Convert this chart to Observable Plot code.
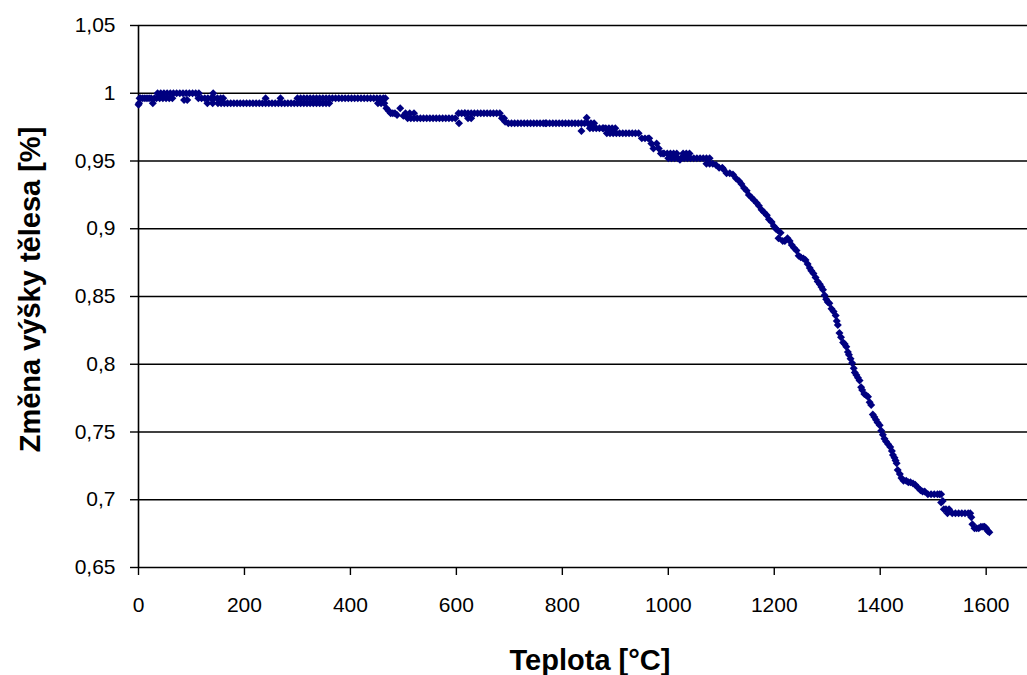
<!DOCTYPE html>
<html>
<head>
<meta charset="utf-8">
<script src="https://cdn.jsdelivr.net/npm/d3@7"></script>
<script src="https://cdn.jsdelivr.net/npm/@observablehq/plot@0.6"></script>
<style>
  html, body { margin: 0; padding: 0; background: #fff; }
  #chart { width: 1027px; height: 675px; }
</style>
</head>
<body>
<div id="chart"></div>
<script>
// Temperature (°C) and relative height change
const temperature = [
  0, 1, 2, 4, 8, 12, 16, 20, 24, 27, 30, 34, 36, 40, 42, 46, 48, 52, 54, 58, 60, 64, 66, 72, 78, 84, 86, 90, 92, 96, 102, 108,
  113, 114, 119, 125, 130, 131, 137, 140, 141, 143, 149, 150, 155, 156, 160, 162,
  168, 174, 180, 186, 192, 198, 204, 210, 216, 222, 228, 234, 240, 246, 252, 258, 264, 270, 276, 282, 288, 294, 300, 306, 312, 318, 324, 330, 336, 342, 348, 354, 360,
  240, 268, 300, 306, 312, 318, 324, 330, 336, 342, 348, 354, 360, 366, 372, 378, 384, 390, 396, 402, 408, 414, 420, 426, 432, 438, 444, 450, 456, 462, 466,
  452, 458, 464,
  468, 472, 476, 480, 484, 488, 494, 500, 504, 508, 512, 514, 520, 520, 526, 532, 538, 544, 550, 556, 562, 568, 574, 580, 586, 592, 598,
  605, 604, 610, 616, 622, 628, 634, 640, 646, 652, 658, 664, 670, 676, 682, 616, 622, 628,
  686, 690, 692, 698, 704, 710, 716, 722, 728, 734, 740, 746, 752, 758, 764, 770, 776, 782, 788, 794, 800, 806, 812, 818, 824, 830, 836, 842, 848, 854, 860,
  768, 836,
  846, 852, 858, 864, 870, 876, 882, 888, 894, 900,
  878, 884, 890, 896, 902, 908, 914, 920, 926, 932, 938,
  944, 950, 956, 962, 964, 968, 972, 978, 982,
  986, 992, 998, 1004, 1010, 1016, 1028, 1034, 1040,
  990, 1000, 1006, 1012, 1018, 1024, 1030, 1036, 1042, 1048, 1054, 1060, 1066, 1072, 1078, 1022,
  1072, 1078, 1084, 1090, 1096, 1102, 1104, 1110, 1116, 1122, 1128, 1134, 1138, 1143, 1148, 1152, 1157, 1162, 1167, 1171,
  1176, 1181, 1186, 1190, 1195, 1199, 1203, 1206, 1208, 1212, 1216, 1220, 1225, 1229, 1233, 1237, 1242, 1246, 1250, 1255,
  1259, 1263, 1267, 1270, 1274, 1278, 1282, 1286, 1289, 1292, 1295, 1298, 1301, 1304, 1308, 1312, 1316, 1318, 1320, 1323,
  1326, 1330, 1333, 1336, 1339, 1341, 1344, 1347, 1350, 1352, 1355, 1358, 1361, 1364, 1366, 1370, 1374, 1377, 1380, 1383,
  1386, 1389, 1392, 1395, 1399, 1402, 1405, 1408, 1411, 1415, 1419, 1422, 1424, 1427, 1429, 1431, 1433, 1437, 1440, 1444,
  1449, 1453, 1457, 1462, 1466, 1471, 1476, 1480, 1484, 1490, 1496, 1502, 1508, 1512, 1515, 1518, 1515, 1520, 1524, 1527,
  1530, 1536, 1542, 1548, 1554, 1560, 1566, 1570, 1572, 1574, 1578, 1582, 1586, 1590, 1594, 1597, 1600, 1603, 1606
];
const heightRatio = [
  0.9915, 0.9926, 0.9963, 0.9963, 0.9963, 0.9963, 0.9963, 0.9963, 0.9963, 0.9926, 0.9963, 0.9963, 1.0, 0.9963, 1.0, 0.9963, 1.0, 0.9963, 1.0, 0.9963, 1.0, 0.9963, 1.0, 1.0, 1.0, 1.0, 0.995, 1.0, 0.995, 1.0, 1.0, 1.0,
  0.9963, 1.0, 0.9963, 0.9963, 0.9926, 0.9963, 0.9963, 0.9926, 1.0, 0.9963, 0.9963, 0.9926, 0.9963, 0.9926, 0.9963, 0.9926,
  0.9926, 0.9926, 0.9926, 0.9926, 0.9926, 0.9926, 0.9926, 0.9926, 0.9926, 0.9926, 0.9926, 0.9926, 0.9926, 0.9926, 0.9926, 0.9926, 0.9926, 0.9926, 0.9926, 0.9926, 0.9926, 0.9926, 0.9926, 0.9926, 0.9926, 0.9926, 0.9926, 0.9926, 0.9926, 0.9926, 0.9926, 0.9926, 0.9926,
  0.9963, 0.9963, 0.9963, 0.9963, 0.9963, 0.9963, 0.9963, 0.9963, 0.9963, 0.9963, 0.9963, 0.9963, 0.9963, 0.9963, 0.9963, 0.9963, 0.9963, 0.9963, 0.9963, 0.9963, 0.9963, 0.9963, 0.9963, 0.9963, 0.9963, 0.9963, 0.9963, 0.9963, 0.9963, 0.9963, 0.9963,
  0.9926, 0.9926, 0.9926,
  0.9889, 0.9870, 0.9852, 0.9852, 0.9852, 0.9840, 0.9889, 0.9833, 0.9852, 0.9815, 0.9852, 0.9815, 0.9815, 0.9852, 0.9815, 0.9815, 0.9815, 0.9815, 0.9815, 0.9815, 0.9815, 0.9815, 0.9815, 0.9815, 0.9815, 0.9815, 0.9815,
  0.9778, 0.9852, 0.9852, 0.9852, 0.9852, 0.9852, 0.9852, 0.9852, 0.9852, 0.9852, 0.9852, 0.9852, 0.9852, 0.9852, 0.9852, 0.9852, 0.9815, 0.9815, 0.9815,
  0.9815, 0.9790, 0.9778, 0.9778, 0.9778, 0.9778, 0.9778, 0.9778, 0.9778, 0.9778, 0.9778, 0.9778, 0.9778, 0.9778, 0.9778, 0.9778, 0.9778, 0.9778, 0.9778, 0.9778, 0.9778, 0.9778, 0.9778, 0.9778, 0.9778, 0.9778, 0.9778, 0.9778, 0.9778, 0.9778, 0.9778,
  0.9722, 0.9820,
  0.9741, 0.9741, 0.9741, 0.9741, 0.9741, 0.9741, 0.9741, 0.9741, 0.9741, 0.9741,
  0.9704, 0.9704, 0.9704, 0.9704, 0.9704, 0.9704, 0.9704, 0.9704, 0.9704, 0.9704, 0.9704,
  0.9667, 0.9667, 0.9667, 0.9667, 0.9630, 0.9593, 0.9630, 0.9593, 0.9556,
  0.9556, 0.9556, 0.9556, 0.9556, 0.9556, 0.9556, 0.9556, 0.9556, 0.9556,
  0.9520, 0.9520, 0.9520, 0.9520, 0.9520, 0.9520, 0.9520, 0.9520, 0.9520, 0.9520, 0.9520, 0.9520, 0.9520, 0.9520, 0.9510, 0.9480,
  0.948, 0.948, 0.947, 0.945, 0.945, 0.944, 0.941, 0.941, 0.940, 0.937, 0.935, 0.933, 0.930, 0.928, 0.925, 0.923, 0.921, 0.919, 0.917, 0.914,
  0.912, 0.910, 0.907, 0.905, 0.902, 0.900, 0.899, 0.893, 0.897, 0.891, 0.891, 0.893, 0.891, 0.888, 0.886, 0.884, 0.880, 0.879, 0.878, 0.877,
  0.874, 0.871, 0.869, 0.867, 0.864, 0.861, 0.859, 0.857, 0.855, 0.851, 0.848, 0.846, 0.845, 0.841, 0.839, 0.836, 0.832, 0.829, 0.823, 0.820,
  0.816, 0.815, 0.813, 0.809, 0.807, 0.804, 0.801, 0.797, 0.794, 0.792, 0.790, 0.788, 0.783, 0.781, 0.778, 0.777, 0.776, 0.772, 0.770, 0.763,
  0.761, 0.759, 0.757, 0.755, 0.751, 0.748, 0.745, 0.743, 0.741, 0.739, 0.736, 0.733, 0.731, 0.729, 0.727, 0.722, 0.719, 0.716, 0.714, 0.714,
  0.713, 0.713, 0.712, 0.711, 0.709, 0.707, 0.706, 0.706, 0.704, 0.704, 0.704, 0.704, 0.704, 0.704, 0.699, 0.698, 0.693, 0.693, 0.690, 0.693,
  0.690, 0.690, 0.690, 0.690, 0.690, 0.690, 0.690, 0.687, 0.682, 0.679, 0.679, 0.679, 0.680, 0.680, 0.680, 0.679, 0.677, 0.676, 0.675
];
const xTicks = [0, 200, 400, 600, 800, 1000, 1200, 1400, 1600];
const yTicks = [0.65, 0.7, 0.75, 0.8, 0.85, 0.9, 0.95, 1, 1.05];
const xTitle = "Teplota [°C]";
const yTitle = "Změna výšky tělesa [%]";

const data = temperature.map((t, i) => ({t, h: heightRatio[i]}));

const chart = Plot.plot({
  width: 1027,
  height: 675,
  marginLeft: 138,
  marginRight: 0,
  marginTop: 25,
  marginBottom: 108,
  style: {fontFamily: "'Liberation Sans', Arial, sans-serif", fontSize: "21px", color: "black", background: "white"},
  x: {domain: [0, 1678]},
  y: {domain: [0.65, 1.05]},
  marks: [
    Plot.ruleY(yTicks, {stroke: "black", strokeWidth: 1.6}),
    Plot.ruleX([0], {stroke: "black", strokeWidth: 1.6}),
    Plot.axisX({ticks: xTicks, tickSize: 8, tickPadding: 22, label: null, strokeWidth: 1.4, tickFormat: d => String(d)}),
    Plot.axisY({ticks: yTicks, tickSize: 8, tickPadding: 15, label: null, strokeWidth: 1.4, tickFormat: d => String(d).replace(".", ",")}),
    Plot.dot(data, {x: "t", y: "h", symbol: "diamond2", r: 3.6, fill: "#000080", stroke: "none"}),
    Plot.text([xTitle], {frameAnchor: "bottom", dx: 7, dy: 93, lineAnchor: "middle", textAnchor: "middle", fontWeight: "bold", fontSize: 29}),
    Plot.text([yTitle], {frameAnchor: "left", dx: -108, dy: -7, rotate: -90, lineAnchor: "middle", textAnchor: "middle", fontWeight: "bold", fontSize: 29})
  ]
});
document.getElementById("chart").appendChild(chart);
</script>
</body>
</html>
